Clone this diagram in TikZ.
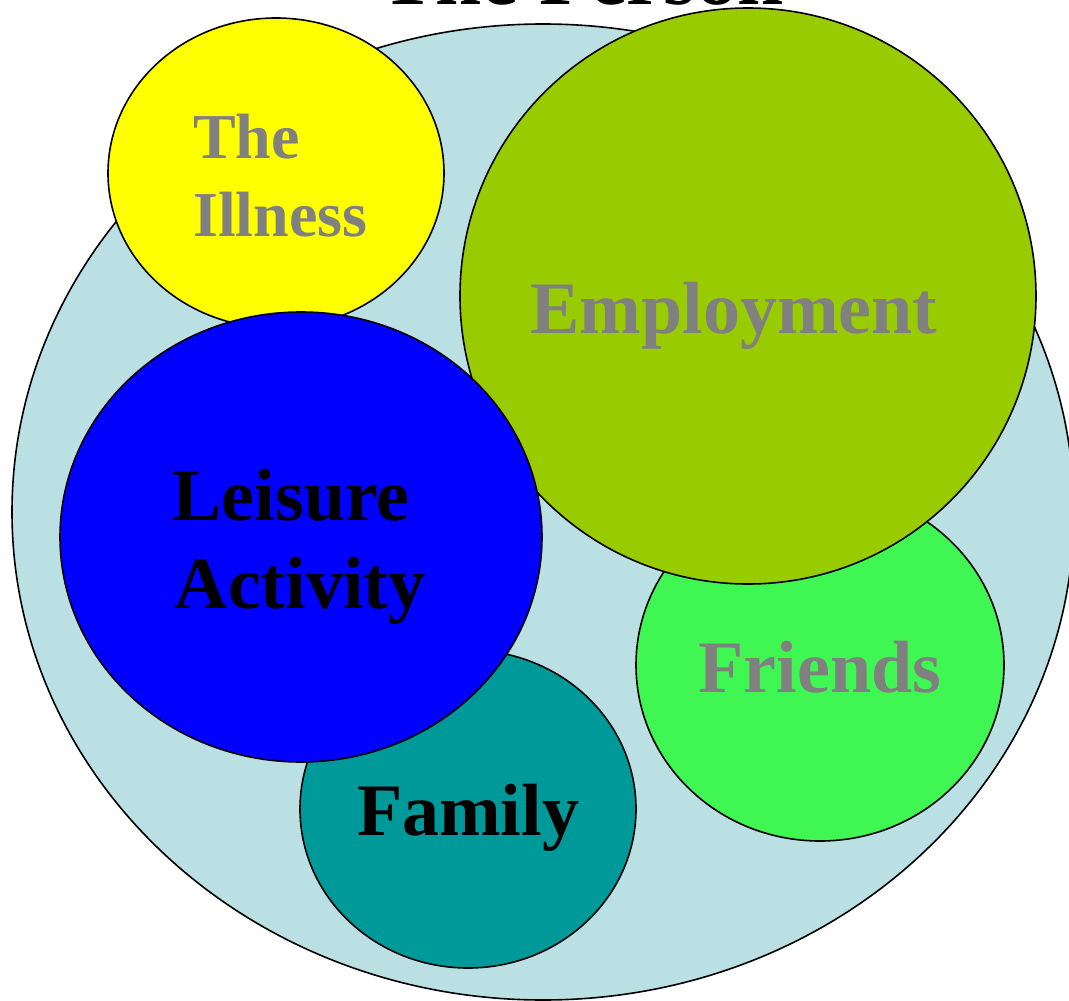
\documentclass[tikz,border=0pt]{standalone}
\usepackage{fontspec}
\setmainfont{Liberation Serif}
\definecolor{personbg}{RGB}{186,224,228}
\definecolor{illnessc}{RGB}{255,255,0}
\definecolor{employc}{RGB}{153,204,0}
\definecolor{leisurec}{RGB}{0,0,255}
\definecolor{familyc}{RGB}{0,153,153}
\definecolor{friendsc}{RGB}{64,246,82}
\definecolor{txtgray}{RGB}{128,128,128}
\begin{document}
\begin{tikzpicture}[x=1pt,y=-1pt,
  blob/.style={draw=black,line width=1.6pt},
  lbl/.style={inner sep=0pt,anchor=base,font=\fontsize{74}{80}\selectfont\bfseries},
  smalllbl/.style={inner sep=0pt,anchor=base west,font=\fontsize{64}{70}\selectfont\bfseries,text=txtgray}]
\useasboundingbox (0,0) rectangle (1069,1001);
\begin{scope}
\clip (0,0) rectangle (1069,1001);
\draw[blob,fill=personbg] (543,512) ellipse [x radius=531,y radius=488];
\draw[blob,fill=illnessc] (276,173) ellipse [x radius=168,y radius=155];
\draw[blob,fill=friendsc] (820,665) ellipse [x radius=184,y radius=176];
\draw[blob,fill=employc] (748,296) ellipse [x radius=288,y radius=288];
\draw[blob,fill=familyc] (468,809) ellipse [x radius=168,y radius=159];
\draw[blob,fill=leisurec] (301,537) ellipse [x radius=241,y radius=225];
\node[lbl,font=\fontsize{83}{90}\selectfont\bfseries] (title) at (582,5) {The Person};
\end{scope}
\node[smalllbl] (the) at (193,158) {The};
\node[smalllbl] (illness) at (193,236) {Illness};
\node[lbl,text=txtgray] (employment) at (734,333) {Employment};
\node[lbl] (leisure) at (291,520) {Leisure};
\node[lbl] (activity) at (300,608) {Activity};
\node[lbl] (family) at (468,835) {Family};
\node[lbl,text=txtgray] (friends) at (820,692) {Friends};
\end{tikzpicture}
\end{document}
